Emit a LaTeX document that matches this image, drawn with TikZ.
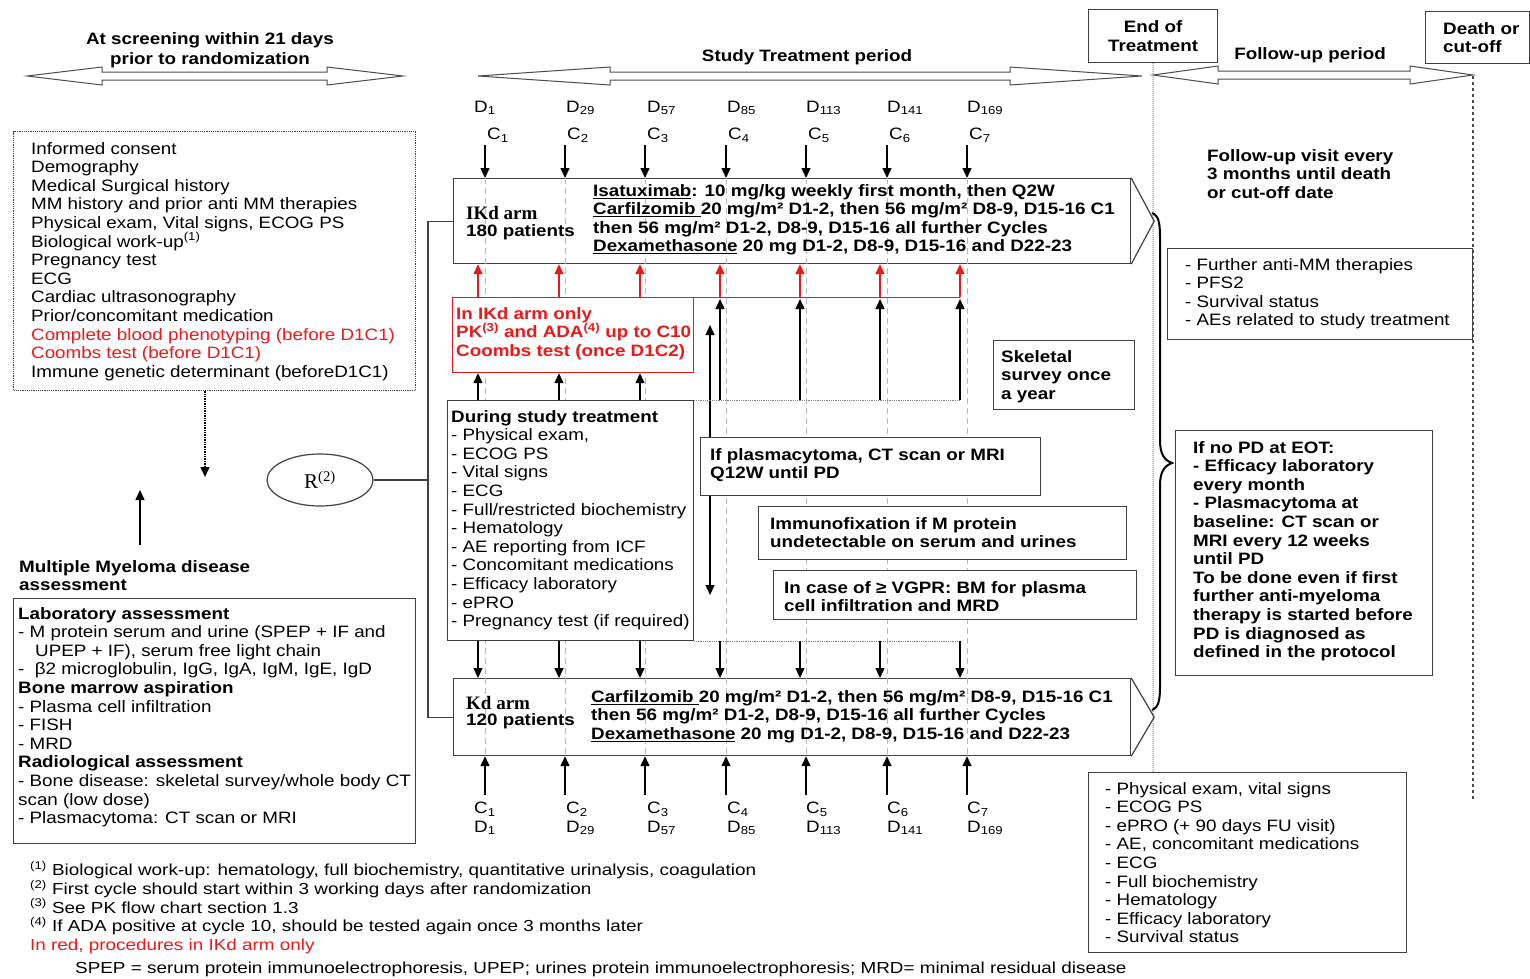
\documentclass[tikz,border=0pt]{standalone}
\usepackage{fontspec}
\setmainfont{Liberation Sans}[FakeStretch=1.14]
\newfontfamily\armfont{Liberation Serif}
\newfontfamily\notefont{Liberation Sans}[FakeStretch=1.18]
\usetikzlibrary{arrows.meta,shapes.geometric,positioning}
\definecolor{protored}{RGB}{235,25,25}
\definecolor{gridgray}{RGB}{185,185,185}
\newcommand{\bodysize}{\fontsize{16.5}{18.6}\selectfont}
\newcommand{\armsize}{\fontsize{16.5}{18.5}\selectfont}

\begin{document}
\begin{tikzpicture}[x=1pt, y=-1pt,
  txt/.style={inner sep=0pt, align=left, anchor=north west, font=\bodysize},
  btxt/.style={txt, font=\bodysize\bfseries},
  frame/.style={draw=black!75, line width=1.2pt, fill=white, inner sep=0pt, anchor=north west},
  armbox/.style={draw=black!75, line width=1.2pt, inner sep=0pt, anchor=north west},
  guide/.style={gridgray, line width=0.8pt, dash pattern=on 6pt off 4pt},
  rail/.style={gray, line width=0.8pt, densely dotted},
  arr/.style={-{Triangle[length=10pt, width=9pt]}, line width=1.4pt},
  redarr/.style={arr, protored},
  period/.style={draw=black!70, line width=1pt, fill=white}
]
\useasboundingbox (0,0) rectangle (1530,978);

% time periods
\node[btxt, align=center, anchor=north, font=\fontsize{16.5}{20}\selectfont\bfseries] (scrlbl) at (210,32) {At screening within 21 days\\prior to randomization};
\draw[period] (27,76) -- (102,67) -- (102,72) -- (327,72) -- (327,67) -- (403,76)
  -- (327,85) -- (327,80) -- (102,80) -- (102,85) -- cycle;
\node[btxt, anchor=center] (studylbl) at (807,57) {Study Treatment period};
\draw[period] (478,76) -- (610,67) -- (610,72) -- (1010,72) -- (1010,67) -- (1142,76)
  -- (1010,85) -- (1010,80) -- (610,80) -- (610,85) -- cycle;
\node[btxt, anchor=center] (fulbl) at (1310,55) {Follow-up period};
\draw[period] (1153,75) -- (1218,66) -- (1218,71) -- (1410,71) -- (1410,66) -- (1473,75)
  -- (1410,84) -- (1410,79) -- (1218,79) -- (1218,84) -- cycle;
\node[frame, minimum width=129, minimum height=53, align=center, font=\bodysize\bfseries] (eot) at (1088,9) {End of\\Treatment};
\node[frame, minimum width=104, minimum height=52] (death) at (1425,11) {};
\node[btxt] (deathlbl) at (1443,22) {Death or\\cut-off};
\coordinate (eotend) at (1153,778);
\coordinate (futip) at (1473,76);
\coordinate (fuend) at (1473,800);
\draw[gray, line width=1pt, densely dotted] (eot.south) -- (eotend);
\draw[black!70, line width=1.2pt, dashed] (futip) -- (fuend);

% treatment arms
\node[armbox, minimum width=677, minimum height=85] (ikd) at (453,178) {};
\node[armbox, minimum width=677, minimum height=77] (kd) at (453,678) {};
\coordinate (ikdtip) at ([xshift=23pt]ikd.east);
\coordinate (kdtip) at ([xshift=23pt]kd.east);
\draw[black!75, line width=1.2pt] (ikd.north east) -- (ikdtip) -- (ikd.south east);
\draw[black!75, line width=1.2pt] (kd.north east) -- (kdtip) -- (kd.south east);

% cycle days
\foreach \x/\o/\d/\c in {485/-11/1/1, 565/1/29/2, 645/2/57/3, 726/1/85/4, 806/0/113/5, 887/0/141/6, 967/0/169/7}{
  \coordinate (top\c) at (\x,145);
  \coordinate (bot\c) at (\x,795);
  \draw[guide] (ikd.north -| top\c) -- (kd.south -| top\c);
  \draw[arr] (top\c) -- (top\c |- ikd.north);
  \draw[arr] (bot\c) -- (bot\c |- kd.south);
  \node[txt, anchor=west] (dtop\c) at (\x+\o,108) {D\textsubscript{\d}};
  \node[txt, anchor=west] (ctop\c) at (\x+2,135) {C\textsubscript{\c}};
  \node[txt, anchor=west] (cbot\c) at (\x+\o,809) {C\textsubscript{\c}};
  \node[txt, anchor=west] (dbot\c) at (\x+\o,828) {D\textsubscript{\d}};
}

\node[txt, anchor=west, font=\armfont\bfseries\fontsize{19}{20}\selectfont] (ikdname) at (466,213) {IKd arm};
\node[btxt, anchor=west] (ikdpts) at (466,232) {180 patients};
\node[txt, font=\armsize\bfseries] (ikddose) at (593,184) {\underline{Isatuximab}: 10 mg/kg weekly first month, then Q2W\\
\underline{Carfilzomib }20 mg/m² D1-2, then 56 mg/m² D8-9, D15-16 C1\\
then 56 mg/m² D1-2, D8-9, D15-16 all further Cycles\\
\underline{Dexamethasone} 20 mg D1-2, D8-9, D15-16 and D22-23};
\node[txt, anchor=west, font=\armfont\bfseries\fontsize{19}{20}\selectfont] (kdname) at (466,703) {Kd arm};
\node[btxt, anchor=west] (kdpts) at (466,721) {120 patients};
\node[txt, font=\armsize\bfseries] (kddose) at (591,690) {\underline{Carfilzomib }20 mg/m² D1-2, then 56 mg/m² D8-9, D15-16 C1\\
then 56 mg/m² D1-2, D8-9, D15-16 all further Cycles\\
\underline{Dexamethasone} 20 mg D1-2, D8-9, D15-16 and D22-23};

% randomisation
\node[draw=black!75, line width=1.2pt, ellipse, minimum width=106, minimum height=52, inner sep=0pt,
      font=\armfont\fontsize{21}{22}\selectfont] (rand) at (320,480) {R\textsuperscript{(2)}};
\coordinate (split) at (428,480);
\draw[black!75, line width=1.2pt] (rand.east) -- (split);
\draw[black!75, line width=1.2pt] (ikd.west) -| (split);
\draw[black!75, line width=1.2pt] (kd.west) -| (split);

% screening
\node[frame, densely dotted, minimum width=402, minimum height=259] (scr) at (13,131) {};
\node[txt] (scrlist) at (31,142) {Informed consent\\
Demography\\
Medical Surgical history\\
MM history and prior anti MM therapies\\
Physical exam, Vital signs, ECOG PS\\
Biological work-up\textsuperscript{(1)}\\
Pregnancy test\\
ECG\\
Cardiac ultrasonography\\
Prior/concomitant medication\\
\textcolor{protored}{Complete blood phenotyping (before D1C1)}\\
\textcolor{protored}{Coombs test (before D1C1)}\\
Immune genetic determinant (beforeD1C1)};
\coordinate (scrend) at (205,477);
\draw[arr, densely dotted] (scr.south -| scrend) -- (scrend);

\node[btxt] (mmlbl) at (19,560) {Multiple Myeloma disease\\assessment};
\coordinate (mmup) at (140,490);
\draw[arr] ([yshift=15pt]mmlbl.north -| mmup) -- (mmup);
\node[frame, minimum width=402, minimum height=245] (mm) at (13,598) {};
\node[txt] (mmlist) at (18,607) {\textbf{Laboratory assessment}\\
- M protein serum and urine (SPEP + IF and\\
\hspace*{17pt}UPEP + IF), serum free light chain\\
-~ β2 microglobulin, IgG, IgA, IgM, IgE, IgD\\
\textbf{Bone marrow aspiration}\\
- Plasma cell infiltration\\
- FISH\\
- MRD\\
\textbf{Radiological assessment}\\
- Bone disease: skeletal survey/whole body CT\\
scan (low dose)\\
- Plasmacytoma: CT scan or MRI};

% during treatment
\foreach \x [count=\i] in {478,559,640,720,800,880,960}{
  \coordinate (col\i) at (\x,0);
}
\coordinate (scanup) at (710,325);
\coordinate (scandn) at (710,595);
\draw[{Triangle[length=10pt, width=9pt]}-{Triangle[length=10pt, width=9pt]}, line width=1.4pt] (scanup) -- (scandn);

\node[frame, draw=protored, minimum width=241, minimum height=75] (red) at (452,297) {};
\node[btxt, text=protored] (redlist) at (456,307) {In IKd arm only\\
PK\textsuperscript{(3)} and ADA\textsuperscript{(4)} up to C10\\
Coombs test (once D1C2)};
\node[frame, minimum width=246, minimum height=240] (during) at (447,400) {};
\node[txt] (duringlist) at (451,410) {\textbf{During study treatment}\\
- Physical exam,\\
- ECOG PS\\
- Vital signs\\
- ECG\\
- Full/restricted biochemistry\\
- Hematology\\
- AE reporting from ICF\\
- Concomitant medications\\
- Efficacy laboratory\\
- ePRO\\
- Pregnancy test (if required)};

\draw[protored, line width=0.8pt] (red.north east) -- (red.north -| col7);
\draw[rail] (during.north east) -- (during.north -| col7);
\draw[rail] (during.south east) -- (during.south -| col7);
\foreach \i in {1,...,7}{
  \draw[redarr] (red.north -| col\i) -- (ikd.south -| col\i);
  \draw[arr] (during.south -| col\i) -- (kd.north -| col\i);
  \ifnum\i<4
    \draw[arr] (during.north -| col\i) -- (red.south -| col\i);
  \else
    \draw[arr, shorten >=2pt] (during.north -| col\i) -- (red.north -| col\i);
  \fi
}

\node[frame, minimum width=141, minimum height=69] (skel) at (993,340) {};
\node[btxt] (skellbl) at (1001,350) {Skeletal\\survey once\\a year};
\node[frame, minimum width=340, minimum height=58] (plasma) at (700,437) {};
\node[btxt] (plasmalbl) at (710,448) {If plasmacytoma, CT scan or MRI\\Q12W until PD};
\node[frame, minimum width=368, minimum height=53] (immuno) at (758,506) {};
\node[btxt] (immunolbl) at (770,517) {Immunofixation if M protein\\undetectable on serum and urines};
\node[frame, minimum width=363, minimum height=49] (vgpr) at (773,570) {};
\node[btxt] (vgprlbl) at (784,581) {In case of ≥ VGPR: BM for plasma\\cell infiltration and MRD};

% follow-up
\draw[line width=2pt] (1152,213) .. controls (1160,216) and (1160,226) .. (1160,242) -- (1160,440)
  .. controls (1160,454) and (1164,460) .. (1172,463) .. controls (1164,466) and (1160,472) .. (1160,486)
  -- (1160,684) .. controls (1160,700) and (1159,707) .. (1152,710);
\node[btxt] (fuvisit) at (1207,149) {Follow-up visit every\\3 months until death\\or cut-off date};
\node[frame, minimum width=305, minimum height=91] (fubox) at (1167,248) {};
\node[txt] (fulist) at (1185,258) {- Further anti-MM therapies\\
- PFS2\\
- Survival status\\
- AEs related to study treatment};
\node[frame, minimum width=257, minimum height=245] (nopd) at (1175,430) {};
\node[btxt] (nopdlist) at (1193,441) {If no PD at EOT:\\
- Efficacy laboratory\\
every month\\
- Plasmacytoma at\\
baseline: CT scan or\\
MRI every 12 weeks\\
until PD\\
To be done even if first\\
further anti-myeloma\\
therapy is started before\\
PD is diagnosed as\\
defined in the protocol};
\node[frame, minimum width=318, minimum height=180] (eotbox) at (1088,772) {};
\node[txt] (eotlist) at (1105,782) {- Physical exam, vital signs\\
- ECOG PS\\
- ePRO (+ 90 days FU visit)\\
- AE, concomitant medications\\
- ECG\\
- Full biochemistry\\
- Hematology\\
- Efficacy laboratory\\
- Survival status};

% footnotes
\node[txt, font=\notefont\fontsize{16}{18.75}\selectfont] (notes) at (30,861) {\textsuperscript{(1)} Biological work-up: hematology, full biochemistry, quantitative urinalysis, coagulation\\
\textsuperscript{(2)} First cycle should start within 3 working days after randomization\\
\textsuperscript{(3)} See PK flow chart section 1.3\\
\textsuperscript{(4)} If ADA positive at cycle 10, should be tested again once 3 months later\\
\textcolor{protored}{In red, procedures in IKd arm only}};
\node[txt, font=\notefont\fontsize{16}{18.75}\selectfont] (abbrev) at (75,962) {SPEP = serum protein immunoelectrophoresis, UPEP; urines protein immunoelectrophoresis; MRD= minimal residual disease};
\end{tikzpicture}
\end{document}
